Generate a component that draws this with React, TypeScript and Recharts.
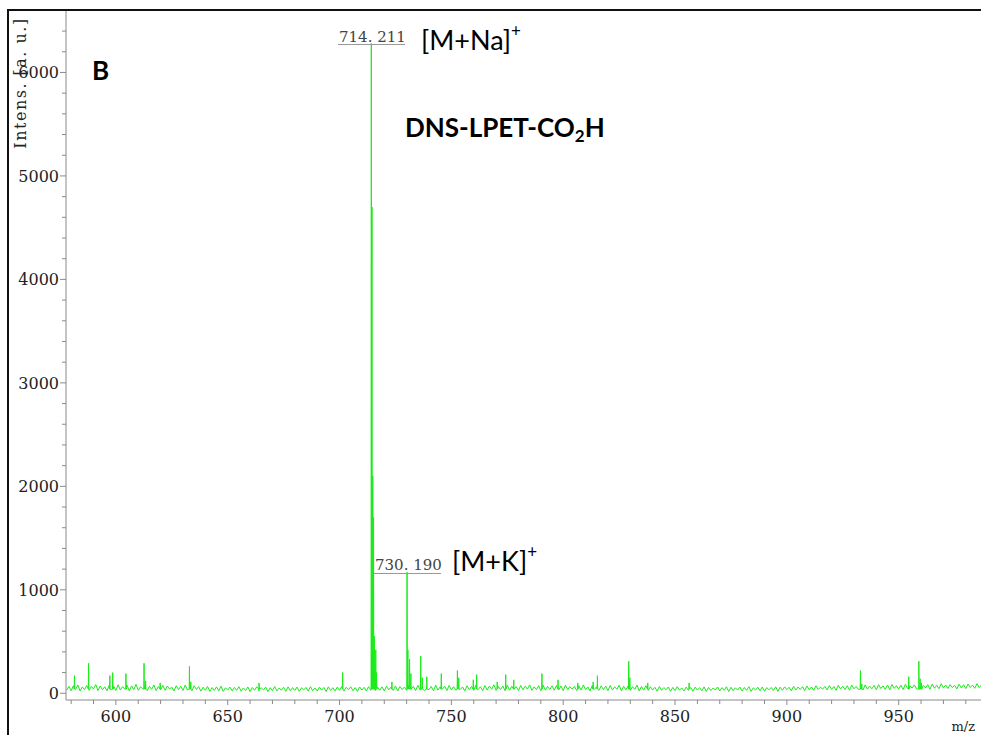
import { LineChart, Line, XAxis, YAxis } from "recharts";

// baseline noise, one reading per m/z unit starting at 578
const noiseStart = 578;
const noiseStep = 1;
const noiseLevels = [
  30, 68, 25, 72, 38, 80, 22, 61, 35, 75, 28, 66, 42, 84, 26, 70, 33, 63, 24, 77,
  36, 69, 27, 82, 31, 64, 40, 78, 23, 71, 34, 86, 29, 62, 45, 74, 26, 67, 38, 80,
  25, 65, 33, 76, 28, 70, 41, 59, 22, 73, 35, 68, 27, 79, 32, 61, 24, 72, 37, 64,
  21, 58, 30, 66, 19, 55, 27, 62, 24, 69, 18, 53, 31, 60, 22, 57, 28, 64, 20, 51,
  26, 61, 17, 56, 29, 63, 21, 52, 33, 59, 16, 54, 25, 65, 23, 50, 30, 58, 19, 62,
  24, 55, 28, 60, 18, 53, 32, 57, 20, 64, 26, 51, 22, 59, 30, 56, 17, 62, 27, 54,
  23, 60, 29, 66, 21, 58, 34, 63, 25, 55, 19, 61, 31, 57, 22, 64, 28, 53, 26, 59,
  30, 62, 24, 68, 33, 59, 27, 71, 22, 65, 36, 60, 28, 74, 38, 67, 25, 76, 32, 63,
  27, 72, 35, 66, 24, 78, 31, 62, 40, 69, 26, 75, 33, 64, 29, 80, 37, 61, 23, 73,
  34, 67, 28, 79, 36, 63, 25, 74, 31, 70, 39, 82, 27, 65, 35, 71, 24, 77, 30, 68,
  38, 64, 26, 76, 33, 69, 40, 81, 28, 62, 35, 73, 24, 79, 31, 66, 37, 72, 29, 75,
  32, 70, 25, 78, 36, 63, 41, 67, 27, 74, 30, 80, 34, 61, 23, 76, 38, 65, 28, 72,
  35, 69, 26, 75, 31, 62, 39, 77, 24, 68, 33, 71, 28, 64, 37, 79, 22, 66, 30, 73,
  27, 63, 32, 58, 21, 66, 29, 55, 34, 61, 19, 57, 26, 64, 30, 52, 23, 60, 28, 56,
  20, 59, 31, 54, 24, 62, 18, 57, 27, 50, 33, 61, 22, 55, 29, 63, 17, 58, 25, 53,
  30, 60, 21, 56, 28, 64, 19, 52, 32, 58, 24, 61, 20, 55, 34, 57, 26, 63, 18, 59,
  29, 62, 35, 58, 23, 67, 31, 60, 37, 64, 26, 70, 33, 61, 28, 72, 36, 59, 40, 66,
  32, 74, 38, 65, 29, 77, 42, 68, 35, 73, 30, 79, 44, 66, 37, 75, 31, 81, 39, 70,
  43, 76, 34, 83, 46, 71, 38, 80, 33, 85, 48, 74, 40, 78, 36, 87, 45, 72, 50, 81,
  41, 86, 47, 75, 52, 83, 39, 89, 49, 78, 44, 92, 53, 80, 46, 84, 55, 77, 42, 88,
  51, 82, 45, 90, 56, 79, 48, 93, 54, 81, 47, 86, 58,
];

// peaks
const peakMz = [
  581.5, 587.8, 597.3, 598.6, 604.5, 612.6, 613.3, 619.8, 632.9, 633.5, 664.0,
  701.4, 714.21, 714.5, 714.85, 715.2, 715.55, 716.2, 716.55, 723.4,
  730.19, 730.55, 731.3, 731.9, 736.3, 737.0, 739.0, 745.5, 752.7, 753.3,
  759.8, 761.3, 770.5, 774.3, 777.9, 790.5, 797.7, 806.5, 813.4, 815.3,
  829.3, 829.8, 837.8, 856.3, 932.9, 933.5, 954.5, 959.0, 959.6, 960.2,
];
const peakHeights = [
  170, 290, 170, 200, 190, 290, 120, 100, 260, 110, 100,
  200, 6280, 4700, 2100, 1700, 550, 420, 200, 110,
  1170, 420, 330, 190, 360, 150, 160, 190, 220, 150,
  130, 180, 110, 180, 130, 190, 130, 100, 110, 170,
  310, 150, 100, 100, 220, 90, 160, 310, 140, 100,
];
const peakFoot = 40;

const xTicks = [
  580, 590, 600, 610, 620, 630, 640, 650, 660, 670, 680, 690, 700, 710, 720,
  730, 740, 750, 760, 770, 780, 790, 800, 810, 820, 830, 840, 850, 860, 870,
  880, 890, 900, 910, 920, 930, 940, 950, 960, 970, 980,
];
const yTicks = [
  0, 200, 400, 600, 800, 1000, 1200, 1400, 1600, 1800, 2000, 2200, 2400, 2600,
  2800, 3000, 3200, 3400, 3600, 3800, 4000, 4200, 4400, 4600, 4800, 5000,
  5200, 5400, 5600, 5800, 6000, 6200, 6400,
];

const spectrum = [
  ...noiseLevels.map((v, i) => ({ mz: noiseStart + i * noiseStep, v })),
  ...peakMz.flatMap((m, i) => [
    { mz: m - 0.12, v: peakFoot },
    { mz: m, v: peakHeights[i] },
    { mz: m + 0.12, v: peakFoot },
  ]),
].sort((a, b) => a.mz - b.mz);

const axisGray = "#8a8a8a";
const serif = "'DejaVu Serif', serif";
const sans = "Lato, 'Open Sans', sans-serif";

function YTick(props: any) {
  const { x, y, payload } = props;
  const major = payload.value % 1000 === 0;
  return (
    <g>
      <line x1={x - (major ? 6 : 4)} x2={x} y1={y} y2={y} stroke={axisGray} />
      {major && (
        <text x={x - 7} y={y + 6} textAnchor="end" fontFamily={serif} fontSize={16} fill="#222">
          {payload.value}
        </text>
      )}
    </g>
  );
}

function XTick(props: any) {
  const { x, y, payload } = props;
  const major = payload.value % 50 === 0;
  return (
    <g>
      <line x1={x} x2={x} y1={y} y2={y + (major ? 5 : 4)} stroke={axisGray} />
      {major && (
        <text x={x} y={y + 22} textAnchor="middle" fontFamily={serif} fontSize={16} fill="#222">
          {payload.value}
        </text>
      )}
    </g>
  );
}

export default function App() {
  return (
    <div style={{ position: "absolute", left: 0, top: 0, width: 981, height: 735, overflow: "hidden", background: "#fff" }}>
      <LineChart width={981} height={735} data={spectrum} margin={{ top: 11, right: 0, bottom: 0, left: 0 }}>
        <XAxis
          dataKey="mz"
          type="number"
          domain={[577.7, 986.8]}
          ticks={xTicks}
          interval={0}
          height={35}
          tickSize={0}
          tickMargin={0}
          tick={XTick}
          stroke={axisGray}
          allowDataOverflow
        />
        <YAxis
          type="number"
          domain={[-65, 6594]}
          ticks={yTicks}
          interval={0}
          width={66}
          tickSize={0}
          tickMargin={0}
          tick={YTick}
          stroke={axisGray}
          allowDataOverflow
        />
        <Line
          type="linear"
          dataKey="v"
          stroke="#1aeb1a"
          strokeWidth={1}
          dot={false}
          isAnimationActive={false}
        />
      </LineChart>

      <svg width={981} height={735} style={{ position: "absolute", left: 0, top: 0, pointerEvents: "none" }}>
        <line x1={7} x2={981} y1={10} y2={10} stroke="#111" strokeWidth={2} />
        <line x1={8} x2={8} y1={9} y2={735} stroke="#111" strokeWidth={2} />

        <text x={26} y={83} transform="rotate(-90, 26, 83)" textAnchor="middle" fontFamily={serif} fontSize={16} letterSpacing={1.5} fill="#222">
          Intens. [a. u.]
        </text>

        <text x={92} y={80} fontFamily={sans} fontWeight={700} fontSize={26} fill="#000">B</text>
        <text x={405} y={137} fontFamily={sans} fontWeight={700} fontSize={26} fill="#000">
          DNS-LPET-CO<tspan fontSize={17} dy={5}>2</tspan><tspan dy={-5}>H</tspan>
        </text>

        <text x={339} y={42} fontFamily={serif} fontSize={15} fill="#444">714. 211</text>
        <line x1={338} x2={405} y1={44.5} y2={44.5} stroke="#999" />
        <text x={421} y={50} fontFamily={sans} fontSize={27} fill="#000">
          [M+Na]<tspan fontSize={17} dy={-13}>+</tspan>
        </text>

        <text x={375} y={570} fontFamily={serif} fontSize={15} fill="#444">730. 190</text>
        <line x1={374} x2={441} y1={573.5} y2={573.5} stroke="#999" />
        <text x={452} y={571} fontFamily={sans} fontSize={27} fill="#000">
          [M+K]<tspan fontSize={17} dy={-13}>+</tspan>
        </text>

        <text x={975} y={731} textAnchor="end" fontFamily={serif} fontSize={13} fill="#222">m/z</text>
      </svg>
    </div>
  );
}
